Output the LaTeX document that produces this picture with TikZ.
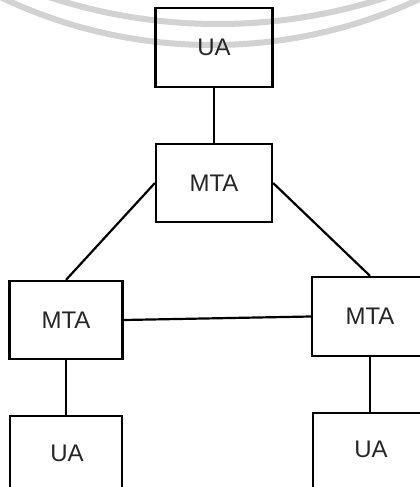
\documentclass[tikz,border=0pt]{standalone}
\usepackage{fontspec}
\setmainfont{Liberation Sans}
\definecolor{bandgray}{HTML}{D2D2D2}
\begin{document}
\begin{tikzpicture}[x=1pt,y=-1pt,
  agent/.style={draw=black, line width=2.2pt, inner sep=0pt,
    font=\fontsize{24}{24}\selectfont, text=black!85},
  label/.style={font=\fontsize{24}{24}\selectfont, text=black!85},
  link/.style={draw=black, line width=2.2pt}]
  \clip (0,0) rectangle (420,487);
  \fill[white] (0,0) rectangle (420,487);
  % faint curved bands across the top
  \tikzset{band/.style={draw=bandgray, line width=6pt}}
  \draw[band] (218,-516) circle[radius=540];
  \draw[band] (212,-445) circle[radius=490];
  % boxes
  \node[agent, minimum width=117pt, minimum height=79pt] (ua1) at (214,47.5) {UA};
  \node[agent, minimum width=116pt, minimum height=78pt] (mta1) at (214,183) {MTA};
  \node[agent, minimum width=113pt, minimum height=78pt] (mta2) at (66,320) {MTA};
  \node[agent, minimum width=116pt, minimum height=79pt] (mta3) at (370,316.5) {MTA};
  \node[agent, minimum width=112pt, minimum height=80pt] (ua2) at (66,456) {};
  \node[label] (ua2t) at (67,453) {UA};
  \node[agent, minimum width=114pt, minimum height=80pt] (ua3) at (370,453) {};
  \node[label] (ua3t) at (371,449) {UA};
  % connections
  \draw[link] (ua1.south) -- (mta1.north);
  \draw[link] (mta1.west) -- (mta2.north);
  \draw[link] (mta1.east) -- (mta3.north);
  \draw[link] (mta2.east) -- (mta3.west);
  \draw[link] (mta2.south) -- (ua2.north);
  \draw[link] (mta3.south) -- (ua3.north);
\end{tikzpicture}
\end{document}
